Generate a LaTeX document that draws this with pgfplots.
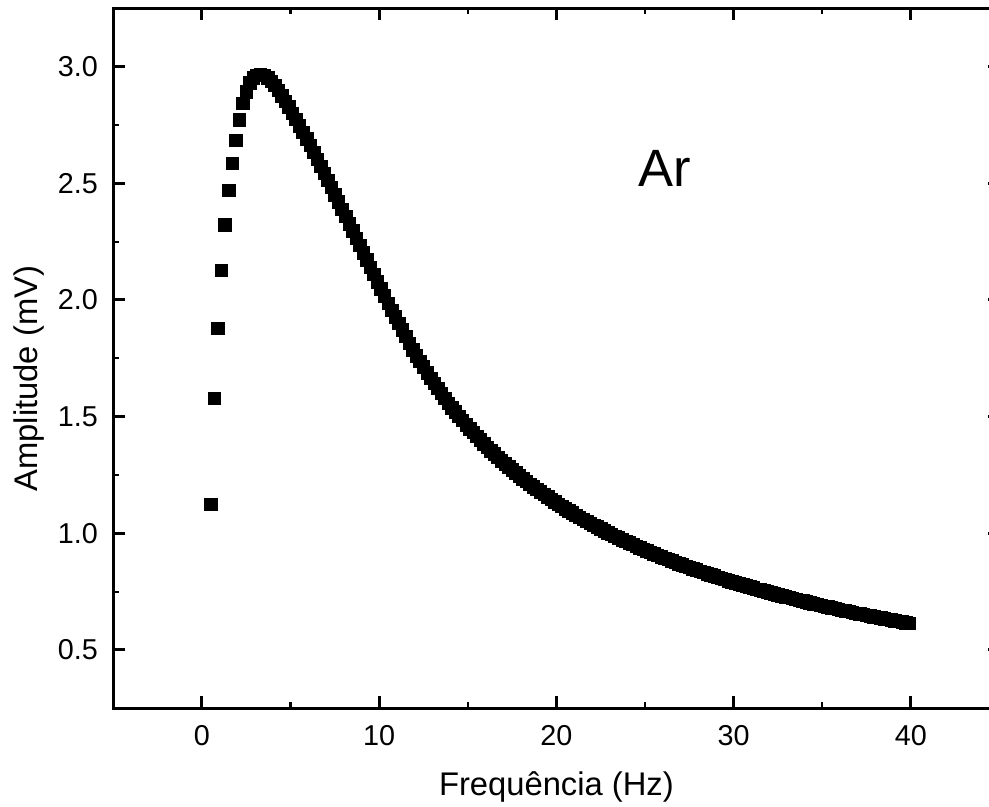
\documentclass[border=0pt]{standalone}
\usepackage{pgfplots}
\pgfplotsset{compat=1.18}
\usepackage{fontspec}
\setmainfont{Liberation Sans}

\begin{document}
\begin{tikzpicture}
\begin{axis}[
    scale only axis,
    width=354.5pt, height=280pt,
    xmin=-5, xmax=45,
    ymin=0.25, ymax=3.25,
    xtick={0,10,20,30,40},
    ytick={0.5,1.0,1.5,2.0,2.5,3.0},
    minor x tick num=1,
    minor y tick num=1,
    tick align=inside,
    major tick length=4.8pt,
    minor tick length=2.4pt,
    every major tick/.append style={line width=1.2pt, black},
    every minor tick/.append style={line width=0.9pt, black},
    axis line style={line width=1.3pt},
    /pgf/number format/assume math mode=true,
    yticklabel style={/pgf/number format/.cd, fixed, fixed zerofill, precision=1},
    tick label style={font=\fontsize{11.5}{13}\selectfont},
    xticklabel shift=3.4pt,
    yticklabel shift=2.6pt,
    label style={font=\fontsize{13.1}{15}\selectfont},
    xlabel={Frequência (Hz)},
    ylabel={Amplitude (mV)},
    xlabel style={at={(axis description cs:0.5,-0.124)}, anchor=base},
    ylabel style={at={(axis description cs:-0.085,0.471)}, anchor=base},
    clip=false,
]
\coordinate (O) at (rel axis cs:0,0);
% measured amplitude, 0.2 Hz steps
\addplot[only marks, mark=square*, mark size=2.5pt,
         mark options={fill=black, draw=black, line width=0.2pt}] table {
x y
0.5 1.125
0.7 1.578
0.9 1.878
1.1 2.127
1.3 2.323
1.5 2.470
1.7 2.585
1.9 2.685
2.1 2.772
2.3 2.842
2.5 2.893
2.7 2.930
2.9 2.953
3.1 2.964
3.3 2.967
3.5 2.963
3.7 2.953
3.9 2.938
4.1 2.920
4.3 2.899
4.5 2.876
4.7 2.852
4.9 2.827
5.1 2.801
5.3 2.774
5.5 2.747
5.7 2.719
5.9 2.691
6.1 2.662
6.3 2.632
6.5 2.602
6.7 2.572
6.9 2.542
7.1 2.512
7.3 2.482
7.5 2.451
7.7 2.420
7.9 2.389
8.1 2.358
8.3 2.327
8.5 2.296
8.7 2.265
8.9 2.234
9.1 2.203
9.3 2.172
9.5 2.141
9.7 2.110
9.9 2.079
10.1 2.048
10.3 2.017
10.5 1.986
10.7 1.956
10.9 1.927
11.1 1.900
11.3 1.872
11.5 1.844
11.7 1.815
11.9 1.787
12.1 1.761
12.3 1.737
12.5 1.713
12.7 1.689
12.9 1.664
13.1 1.642
13.3 1.621
13.5 1.600
13.7 1.579
13.9 1.558
14.1 1.538
14.3 1.520
14.5 1.502
14.7 1.484
14.9 1.465
15.1 1.448
15.3 1.432
15.5 1.416
15.7 1.400
15.9 1.384
16.1 1.369
16.3 1.354
16.5 1.340
16.7 1.326
16.9 1.311
17.1 1.298
17.3 1.285
17.5 1.272
17.7 1.259
17.9 1.246
18.1 1.234
18.3 1.223
18.5 1.211
18.7 1.200
18.9 1.188
19.1 1.177
19.3 1.167
19.5 1.156
19.7 1.146
19.9 1.135
20.1 1.125
20.3 1.116
20.5 1.106
20.7 1.097
20.9 1.087
21.1 1.078
21.3 1.069
21.5 1.061
21.7 1.052
21.9 1.043
22.1 1.035
22.3 1.027
22.5 1.019
22.7 1.011
22.9 1.003
23.1 0.995
23.3 0.988
23.5 0.981
23.7 0.973
23.9 0.966
24.1 0.959
24.3 0.952
24.5 0.945
24.7 0.938
24.9 0.932
25.1 0.925
25.3 0.919
25.5 0.912
25.7 0.906
25.9 0.900
26.1 0.894
26.3 0.888
26.5 0.882
26.7 0.876
26.9 0.870
27.1 0.865
27.3 0.859
27.5 0.854
27.7 0.848
27.9 0.843
28.1 0.837
28.3 0.832
28.5 0.827
28.7 0.822
28.9 0.817
29.1 0.812
29.3 0.807
29.5 0.802
29.7 0.797
29.9 0.793
30.1 0.788
30.3 0.784
30.5 0.779
30.7 0.775
30.9 0.770
31.1 0.766
31.3 0.761
31.5 0.757
31.7 0.753
31.9 0.749
32.1 0.745
32.3 0.741
32.5 0.737
32.7 0.733
32.9 0.729
33.1 0.725
33.3 0.721
33.5 0.717
33.7 0.713
33.9 0.710
34.1 0.706
34.3 0.702
34.5 0.699
34.7 0.695
34.9 0.692
35.1 0.688
35.3 0.685
35.5 0.681
35.7 0.678
35.9 0.675
36.1 0.671
36.3 0.668
36.5 0.665
36.7 0.662
36.9 0.658
37.1 0.655
37.3 0.652
37.5 0.649
37.7 0.646
37.9 0.643
38.1 0.640
38.3 0.637
38.5 0.634
38.7 0.631
38.9 0.629
39.1 0.626
39.3 0.623
39.5 0.620
39.7 0.617
39.9 0.615
};
\node[font=\fontsize{21}{25}\selectfont, anchor=base, inner sep=0pt] at (axis cs:26.1,2.487) {Ar};
\end{axis}
\pgfresetboundingbox
\path[use as bounding box] ([xshift=-45.32pt,yshift=-39.48pt]O) rectangle ++(395.6pt,322.8pt);
\end{tikzpicture}
\end{document}
